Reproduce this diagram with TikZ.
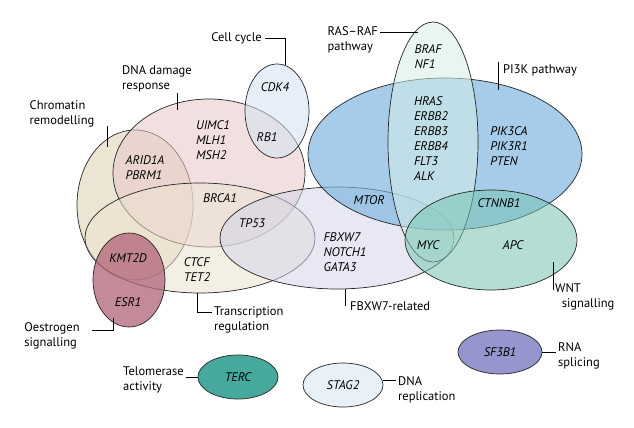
\documentclass[tikz,border=0pt]{standalone}
\usepackage{fontspec}
\setmainfont{PT Sans}
\begin{document}
\begin{tikzpicture}[x=1pt,y=-1pt,
  set/.style={draw=black!85,line width=0.7pt,fill opacity=0.55},
  gene/.style={font=\itshape\fontsize{12.5}{15}\selectfont,align=left,inner sep=0pt},
  lab/.style={font=\fontsize{12.5}{15}\selectfont,align=left,inner sep=0pt},
  ln/.style={draw=black,line width=0.6pt}]
\useasboundingbox (0,0) rectangle (634,428);
\fill[white] (0,0) rectangle (634,428);
% sets
\filldraw[set,fill={rgb,255:red,222;green,208;blue,178}] (135,205) ellipse [x radius=58,y radius=75];
\filldraw[set,fill={rgb,255:red,232;green,200;blue,200}] (209,173) ellipse [x radius=96,y radius=74];
\filldraw[set,fill={rgb,255:red,210;green,226;blue,242}] (277,111) ellipse [x radius=32,y radius=47];
\filldraw[set,fill={rgb,255:red,236;green,226;blue,208}] (200,238) ellipse [x radius=115,y radius=55];
\filldraw[set,fill={rgb,255:red,176;green,100;blue,120},fill opacity=0.75] (129,280) ellipse [x radius=36,y radius=47];
\filldraw[set,fill={rgb,255:red,212;green,214;blue,236}] (337,238) ellipse [x radius=117,y radius=51];
\filldraw[set,fill={rgb,255:red,120;green,178;blue,224},fill opacity=0.65] (445,154) ellipse [x radius=137,y radius=76];
\filldraw[set,fill={rgb,255:red,214;green,238;blue,230}] (433,142) ellipse [x radius=45,y radius=120];
\filldraw[set,fill={rgb,255:red,120;green,196;blue,178}] (491,240) ellipse [x radius=86,y radius=50];
\filldraw[set,fill={rgb,255:red,50;green,160;blue,145},fill opacity=0.9] (238,377) ellipse [x radius=40,y radius=22];
\filldraw[set,fill={rgb,255:red,232;green,240;blue,248},fill opacity=1] (343,385) ellipse [x radius=40,y radius=22];
\filldraw[set,fill={rgb,255:red,140;green,138;blue,200},fill opacity=0.9] (500,352) ellipse [x radius=42,y radius=22];
% genes
\node[gene] (g1) at (145,168) {ARID1A\\PBRM1};
\node[gene] (g2) at (213,140) {UIMC1\\MLH1\\MSH2};
\node[gene] (g3) at (267,137) {RB1};
\node[gene] (g4) at (275,87) {CDK4};
\node[gene] (g5) at (220,198) {BRCA1};
\node[gene] (g6) at (252,223) {TP53};
\node[gene] (g7) at (128,258) {KMT2D};
\node[gene] (g8) at (128,302) {ESR1};
\node[gene] (g9) at (197,270) {CTCF\\TET2};
\node[gene] (g10) at (345,252) {FBXW7\\NOTCH1\\GATA3};
\node[gene] (g11) at (369,200) {MTOR};
\node[gene] (g12) at (428,57) {BRAF\\NF1};
\node[gene] (g13) at (431,139) {HRAS\\ERBB2\\ERBB3\\ERBB4\\FLT3\\ALK};
\node[gene] (g14) at (509,146) {PIK3CA\\PIK3R1\\PTEN};
\node[gene] (g15) at (499,203) {CTNNB1};
\node[gene] (g16) at (428,245) {MYC};
\node[gene] (g17) at (513,245) {APC};
\node[gene] (g18) at (238,377) {TERC};
\node[gene] (g19) at (343,385) {STAG2};
\node[gene] (g20) at (500,352) {SF3B1};
% labels
\node[lab,anchor=east] (l1) at (262,38) {Cell cycle};
\draw[ln] (265,38) -- (285,38) coordinate (c1) -- (285,65);
\node[lab,anchor=south] (l2) at (157,92) {DNA damage\\response};
\draw[ln] (177,93) -- (177,110);
\node[lab,anchor=south] (l3) at (62,127) {Chromatin\\remodelling};
\draw[ln] (107,126) -- (107,147);
\node[lab,anchor=north] (l4) at (52,322) {Oestrogen\\signalling};
\draw[ln] (92,330) -- (113,330) -- (113,318);
\node[lab,anchor=west] (l5) at (214,320) {Transcription\\regulation};
\draw[ln] (197,293) -- (197,312) -- (212,312);
\node[lab,anchor=west] (l6) at (350,306) {FBXW7-related};
\draw[ln] (345,289) -- (345,306);
\node[lab,anchor=east] (l7) at (378,40) {RAS–RAF\\pathway};
\draw[ln] (380,32) -- (418,32);
\node[lab,anchor=west] (l8) at (503,70) {PI3K pathway};
\draw[ln] (498,62) -- (498,90);
\node[lab,anchor=north west] (l9) at (555,283) {WNT\\\ \ signalling};
\draw[ln] (553,262) -- (553,290);
\node[lab,anchor=east] (l10) at (184,380) {Telomerase\\activity};
\draw[ln] (186,377) -- (198,377);
\node[lab,anchor=west] (l11) at (398,390) {DNA\\replication};
\draw[ln] (383,380) -- (396,380);
\node[lab,anchor=west] (l12) at (558,356) {RNA\\splicing};
\draw[ln] (542,352) -- (556,352);
\end{tikzpicture}
\end{document}
